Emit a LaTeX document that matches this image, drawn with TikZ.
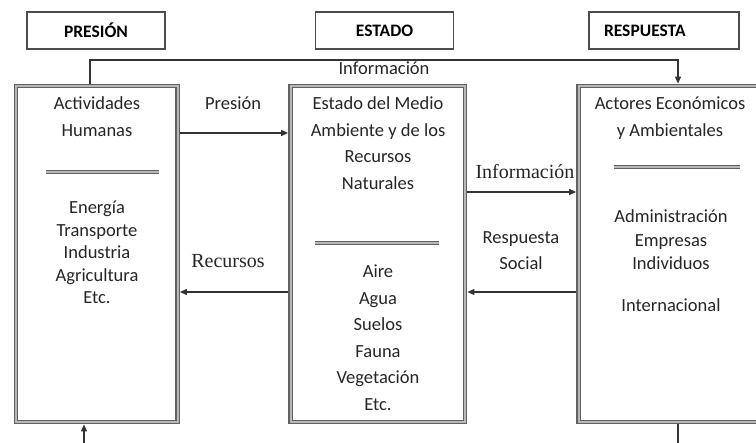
\documentclass[tikz,border=0pt]{standalone}
\usepackage{fontspec}
\setmainfont{Carlito}
\newfontfamily\timesf{Liberation Serif}
\usetikzlibrary{arrows.meta}
\begin{document}
\begin{tikzpicture}[x=1pt,y=-1pt,
  dbl/.style={draw=black!62, line width=1.4pt, double=black!28, double distance=2pt},
  bigbox/.style={dbl, inner sep=0pt, outer sep=2.4pt},
  hdr/.style={draw=black!70, line width=1.1pt, minimum width=138pt, minimum height=37pt, inner sep=0pt, font=\fontsize{17.5}{20}\selectfont\bfseries},
  txt/.style={align=center, inner sep=0pt, anchor=base, text=black!85},
  body/.style={txt, font=\fontsize{18.5}{26.5}\selectfont},
  serifl/.style={txt, font=\timesf\fontsize{20}{24}\selectfont},
  conn/.style={draw=black!80, line width=1.1pt},
  arr/.style={conn, -{Triangle[length=7pt,width=6pt]}}
]
\clip (0,0) rectangle (756,443);
\fill[white] (0,0) rectangle (756,443);

% headers
\node[hdr] (hP) at (96,30.5) {PRESIÓN};
\node[hdr] (hE) at (384.5,30.5) {ESTADO};
\node[hdr, text width=120pt, inner xsep=15pt, align=left] (hR) at (664,30.5) {RESPUESTA};

% main boxes
\node[bigbox, minimum width=161.5pt, minimum height=336pt] (L) at (96.75,254) {};
\node[bigbox, minimum width=174.5pt, minimum height=336pt] (M) at (377.75,254) {};
\node[bigbox, minimum width=221.5pt, minimum height=336pt] (R) at (689.25,254) {};

% separators
\draw[dbl] (46,172) -- (159,172);
\draw[dbl] (315,243) -- (439,243);
\draw[dbl] (614,167) -- (740,167);

% box texts (anchor base = baseline of the last line)
\node[body] (Lt) at (97,136.5) {Actividades\\Humanas};
\node[body, font=\fontsize{18.5}{22.5}\selectfont] (Lb) at (97,304) {Energía\\Transporte\\Industria\\Agricultura\\Etc.};
\node[body] (Mt) at (378,189.5) {Estado del Medio\\Ambiente y de los\\Recursos\\Naturales};
\node[body] (Mb) at (378,410.5) {Aire\\Agua\\Suelos\\Fauna\\Vegetación\\Etc.};
\node[body] (Rt) at (670,136.5) {Actores Económicos\\y Ambientales};
\node[body, font=\fontsize{18.5}{23.5}\selectfont] (Rb) at (671,270) {Administración\\Empresas\\Individuos};
\node[body] (Ri) at (671,312) {Internacional};

% connector labels
\node[body] (lp) at (233,110) {Presión};
\node[body] (lrs) at (521,270) {Respuesta\\Social};
\node[serifl] (lr) at (228,268) {Recursos};
\node[serifl] (li) at (525,179) {Información};
\node[body] (lt) at (384,75) {Información};

% connectors
\draw[arr] (L.east |- 0,133) -- (M.west |- 0,133);
\draw[arr] (M.east |- 0,192) -- (R.west |- 0,192);
\draw[arr] (M.west |- 0,292) -- (L.east |- 0,292);
\draw[arr] (R.west |- 0,292) -- (M.east |- 0,292);

\coordinate (tr) at (678,60);
\draw[arr] (L.north -| 90,0) |- (tr) -- (R.north -| tr);

\coordinate (bl) at (84,460);
\draw[arr] (bl) -- (L.south -| bl);
\coordinate (br) at (678,460);
\draw[conn] (R.south -| br) -- (br);
\end{tikzpicture}
\end{document}
